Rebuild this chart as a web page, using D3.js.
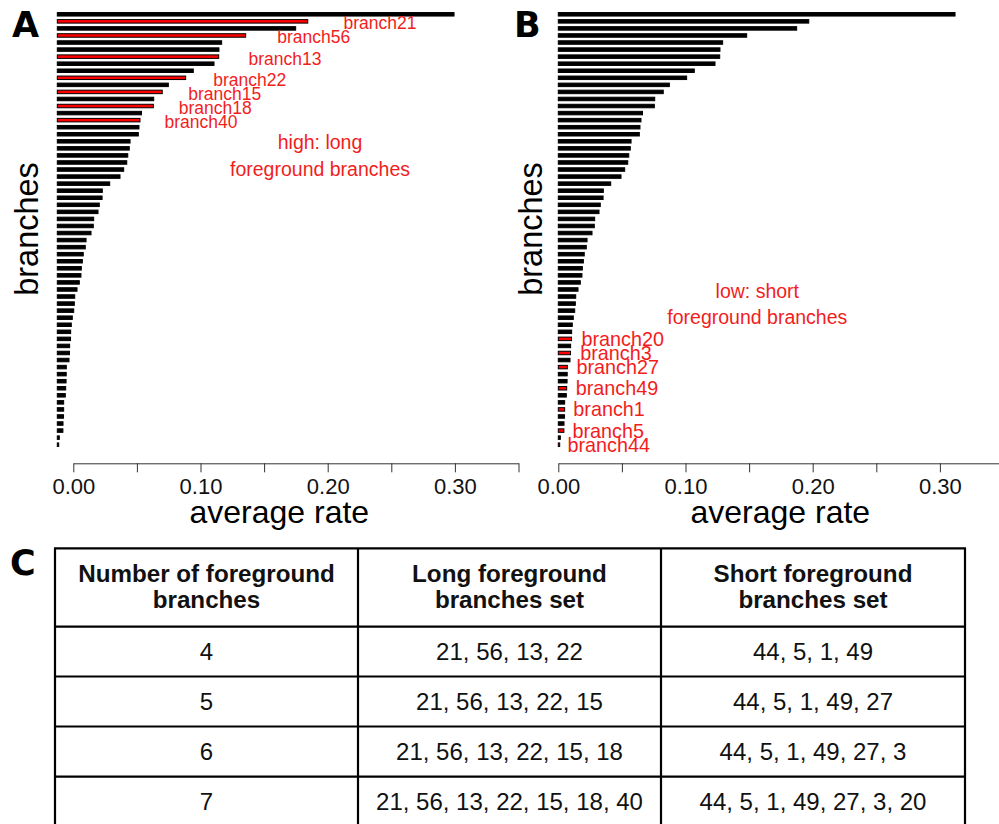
<!DOCTYPE html>
<html>
<head>
<meta charset="utf-8">
<script src="https://cdn.jsdelivr.net/npm/d3@7"></script>
<style>
  body { margin: 0; background: #fff; }
  svg { display: block; }
</style>
</head>
<body>
<svg id="fig" width="999" height="824"></svg>
<script>
// average rate per branch, sorted (same order in A and B)
const rates = [0.3119, 0.1969, 0.1874, 0.1481, 0.1292, 0.1271, 0.1269, 0.1232, 0.1069, 0.1009,
  0.0873, 0.0825, 0.0758, 0.0755, 0.0662, 0.0650, 0.0642, 0.0637, 0.0572, 0.0566,
  0.0554, 0.0546, 0.0522, 0.0493, 0.0412, 0.0354, 0.0352, 0.0330, 0.0320, 0.0286,
  0.0283, 0.0265, 0.0226, 0.0220, 0.0204, 0.0197, 0.0189, 0.0186, 0.0173, 0.0155,
  0.0137, 0.0134, 0.0129, 0.0118, 0.0110, 0.0105, 0.0104, 0.0097, 0.0096, 0.0092,
  0.0071, 0.0070, 0.0069, 0.0066, 0.0063, 0.0050, 0.0050, 0.0049, 0.0045, 0.0044,
  0.0016, 0.0011];

// highlighted branches: rank in the sorted list + name
const longRanks = [1, 3, 6, 9, 11, 13, 15];
const longNames = ["branch21", "branch56", "branch13", "branch22", "branch15", "branch18", "branch40"];
const shortRanks = [46, 48, 50, 53, 56, 59, 61];
const shortNames = ["branch20", "branch3", "branch27", "branch49", "branch1", "branch5", "branch44"];

const xTicks = [0, 0.05, 0.10, 0.15, 0.20, 0.25, 0.30, 0.35];
const xTickLabels = ["0.00", "", "0.10", "", "0.20", "", "0.30", ""];

// table C
const tableHeader = [["Number of foreground", "branches"], ["Long foreground", "branches set"], ["Short foreground", "branches set"]];
const nForeground = ["4", "5", "6", "7"];
const longSets = ["21, 56, 13, 22", "21, 56, 13, 22, 15", "21, 56, 13, 22, 15, 18", "21, 56, 13, 22, 15, 18, 40"];
const shortSets = ["44, 5, 1, 49", "44, 5, 1, 49, 27", "44, 5, 1, 49, 27, 3", "44, 5, 1, 49, 27, 3, 20"];

const svg = d3.select('#fig');
const FONT = "'Liberation Sans', Arial, Helvetica, sans-serif";
const RED = "#ff0000";
const TXTRED = "#f21d1d";

const y = d3.scalePoint().domain(d3.range(rates.length)).range([14.3, 444.7]);
const barH = 3.5;

function drawPanel(p) {
  const g = svg.append('g');
  const x = d3.scaleLinear().domain([0, 0.35]).range([p.x0, p.x0 + 445.2]);
  const hl = new Map(p.ranks.map((r, i) => [r, p.names[i]]));

  g.selectAll('rect.bar')
    .data(rates)
    .join('rect')
    .attr('class', 'bar')
    .attr('x', x(0))
    .attr('y', (d, i) => y(i) - barH / 2)
    .attr('width', d => x(d) - x(0))
    .attr('height', barH)
    .attr('fill', (d, i) => hl.has(i) ? RED : '#000')
    .attr('stroke', '#000')
    .attr('stroke-width', 1);

  // branch labels
  g.selectAll('text.lab')
    .data(p.ranks)
    .join('text')
    .attr('class', 'lab')
    .attr('x', r => x(rates[r]) + p.labDx(rates[r]))
    .attr('y', r => y(r) + p.labDy)
    .attr('font-family', FONT)
    .attr('font-size', p.labSize)
    .attr('fill', TXTRED)
    .text(r => hl.get(r));

  // x axis (panel A's axis sits shifted right of the bar origin)
  const ax = d3.axisBottom(x).tickValues(xTicks)
    .tickFormat((d, i) => xTickLabels[i]).tickSize(9).tickSizeOuter(0).tickPadding(6);
  const axg = g.append('g')
    .attr('transform', `translate(${p.axisShift},463.3)`)
    .call(ax);
  axg.select('.domain').attr('stroke', '#333');
  axg.selectAll('.tick line').attr('stroke', '#333');
  axg.selectAll('.tick text')
    .attr('font-family', FONT).attr('font-size', 22).attr('fill', '#111');

  g.append('text')
    .attr('x', p.x0 + 222).attr('y', 523)
    .attr('text-anchor', 'middle')
    .attr('font-family', FONT).attr('font-size', 32)
    .text('average rate');

  g.append('text')
    .attr('transform', `translate(${p.yTitleX},229) rotate(-90)`)
    .attr('text-anchor', 'middle')
    .attr('font-family', FONT).attr('font-size', 32.5)
    .text('branches');

  g.selectAll('text.note')
    .data(p.note)
    .join('text')
    .attr('class', 'note')
    .attr('x', p.noteX)
    .attr('y', (d, i) => p.noteY + i * 26.4)
    .attr('text-anchor', 'middle')
    .attr('font-family', FONT).attr('font-size', 19.5)
    .attr('fill', TXTRED)
    .text(d => d);

  g.append('text')
    .attr('x', p.letterX).attr('y', 37)
    .attr('font-family', "'DejaVu Sans', sans-serif").attr('font-weight', 'bold')
    .attr('font-size', 35)
    .text(p.letter);
}

drawPanel({
  letter: 'A', letterX: 12, x0: 57.3, axisShift: 16, yTitleX: 38,
  ranks: longRanks, names: longNames,
  labDx: v => 19 + 85 * v, labDy: 8, labSize: 17.5,
  note: ['high: long', 'foreground branches'], noteX: 320, noteY: 149.3
});

drawPanel({
  letter: 'B', letterX: 514, x0: 558.3, axisShift: 0, yTitleX: 542,
  ranks: shortRanks, names: shortNames,
  labDx: v => 7.5 + 230 * v, labDy: 7, labSize: 19.8,
  note: ['low: short', 'foreground branches'], noteX: 757.3, noteY: 297.7
});

// # Table C #
const colX = [55, 358, 661, 965];
const rowY = [548.3, 626.7, 676.5, 726.5, 776.7, 826.7];
const tg = svg.append('g');

svg.append('text')
  .attr('x', 10).attr('y', 575)
  .attr('font-family', "'DejaVu Sans', sans-serif").attr('font-weight', 'bold')
  .attr('font-size', 35)
  .text('C');

colX.forEach(cx => {
  tg.append('line').attr('x1', cx).attr('x2', cx).attr('y1', rowY[0]).attr('y2', rowY[rowY.length - 1])
    .attr('stroke', '#000').attr('stroke-width', 2.2);
});
rowY.forEach(ry => {
  tg.append('line').attr('x1', colX[0] - 1).attr('x2', colX[3] + 1).attr('y1', ry).attr('y2', ry)
    .attr('stroke', '#000').attr('stroke-width', 2.2);
});

tableHeader.forEach((lines, c) => {
  const cx = (colX[c] + colX[c + 1]) / 2;
  lines.forEach((t, k) => {
    tg.append('text')
      .attr('x', cx).attr('y', 581.7 + k * 26.6)
      .attr('text-anchor', 'middle')
      .attr('font-family', FONT).attr('font-weight', 'bold').attr('font-size', 24.2)
      .attr('fill', '#111')
      .text(t);
  });
});

const rows = nForeground.map((n, i) => [n, longSets[i], shortSets[i]]);
rows.forEach((row, r) => {
  const cy = (rowY[r + 1] + rowY[r + 2]) / 2;
  row.forEach((t, c) => {
    tg.append('text')
      .attr('x', (colX[c] + colX[c + 1]) / 2).attr('y', cy + 8.5)
      .attr('text-anchor', 'middle')
      .attr('font-family', FONT).attr('font-size', 24)
      .attr('fill', '#111')
      .text(t);
  });
});
// # Table C # END
</script>
</body>
</html>
